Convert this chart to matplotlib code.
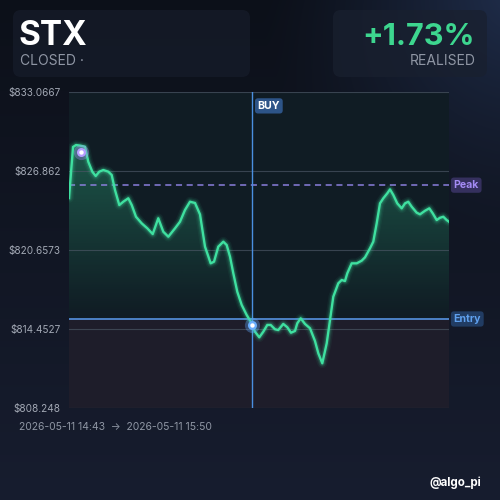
import numpy as np
import matplotlib
matplotlib.use("Agg")
import matplotlib.pyplot as plt
from matplotlib.patches import FancyBboxPatch
import matplotlib.transforms as mtransforms

# ---------------- data ----------------
symbol = "STX"
status = "CLOSED ·"
pnl_text = "+1.73%"
pnl_label = "REALISED"
start_label = "2026-05-11 14:43"
end_label = "2026-05-11 15:50"
handle = "@algo_pi"

minutes = [0.0, 0.71, 1.23, 1.94, 2.82, 3.40, 4.11, 4.71, 5.34, 6.05, 6.93, 7.53,
           8.11, 8.87, 9.57, 10.46, 11.06, 11.81, 12.82, 13.81, 14.76, 15.74, 16.63,
           17.51, 18.69, 19.57, 20.45, 21.33, 22.22, 23.10, 23.98, 24.98, 25.57,
           26.32, 27.21, 27.80, 28.39, 28.97, 29.67, 30.45, 31.33, 32.04, 32.79,
           33.55, 34.26, 34.96, 35.56, 36.32, 36.90, 37.78, 38.49, 39.14, 39.85,
           40.25, 40.85, 41.61, 42.49, 43.37, 43.96, 44.66, 45.44, 46.02, 46.60,
           47.48, 48.08, 48.66, 49.07, 49.84, 50.73, 51.61, 52.19, 53.07, 53.65,
           54.25, 54.83, 55.42, 56.12, 56.60, 57.18, 57.88, 58.66, 59.24, 59.82,
           60.42, 61.30, 61.89, 62.77, 63.53, 64.13, 64.83, 65.41, 66.00, 66.59, 67.0]
prices = [824.74, 828.75, 828.90, 828.86, 828.77, 827.59, 826.81, 826.47, 826.81,
          826.94, 826.81, 826.55, 825.37, 824.19, 824.45, 824.72, 824.19, 823.27,
          822.75, 822.36, 821.91, 823.15, 822.09, 821.70, 822.36, 822.88, 823.80,
          824.45, 824.35, 823.45, 820.92, 819.61, 819.74, 820.92, 821.31, 821.05,
          820.13, 818.83, 817.38, 816.34, 815.55, 815.03, 814.24, 813.80, 814.24,
          814.77, 814.77, 814.43, 814.37, 814.85, 814.59, 814.16, 814.30, 814.90,
          815.29, 814.85, 814.51, 813.51, 812.54, 811.76, 813.33, 815.16, 816.99,
          818.04, 818.30, 818.22, 818.83, 819.61, 819.61, 819.82, 820.08, 820.79,
          821.31, 822.75, 824.32, 824.72, 825.11, 825.42, 824.98, 824.32, 823.93,
          824.32, 824.45, 824.06, 823.59, 823.46, 823.74, 823.93, 823.54, 823.01,
          823.19, 823.27, 823.01, 822.88]

y_min, y_max = 808.248, 833.0667
entry_price = 815.24
peak_price = 825.75
buy_minute = 32.27
peak_marker_minute = 2.06
peak_marker_price = 828.35
total_minutes = 67.0

# ---------------- colours ----------------
LINE = "#3fe0a0"
GRID = "#4a5563"
TXT_GRAY = "#8f96a4"

W = H = 500
fig = plt.figure(figsize=(5, 5), dpi=100)

# background gradient
bg_ax = fig.add_axes([0, 0, 1, 1], zorder=-10)
yy, xx = np.mgrid[0:H, 0:W]
top = np.array([0x0c, 0x10, 0x19]) / 255
bot = np.array([0x17, 0x1d, 0x2f]) / 255
t = (yy / H)[..., None]
img = top * (1 - t) + bot * t
glow_col = np.array([0x20, 0x2e, 0x4c]) / 255
d = np.sqrt((xx - 520) ** 2 + (yy + 10) ** 2) / 260
g = np.clip(1 - d, 0, 1)[..., None] ** 1.3
img = img * (1 - g) + glow_col * g
bg_ax.imshow(img, extent=[0, 1, 0, 1], aspect="auto", origin="upper")
bg_ax.axis("off")

# cards
def card(x0, y0, x1, y1, color):
    p = FancyBboxPatch((x0 / W, 1 - y1 / H), (x1 - x0) / W, (y1 - y0) / H,
                       boxstyle="round,pad=0,rounding_size=0.016",
                       transform=fig.transFigure, facecolor=color,
                       edgecolor="none", alpha=0.75, zorder=-5)
    fig.patches.append(p)

card(13, 10, 250, 77, "#161c2a")
card(333, 10, 487, 77, "#19202f")

fig.text(19 / W, 1 - 45 / H, symbol, color="white", fontsize=24,
         fontweight="bold", family="Inter", va="baseline", ha="left")
fig.text(20 / W, 1 - 65 / H, status, color=TXT_GRAY, fontsize=10,
         family="Inter", va="baseline", ha="left")
fig.text(475 / W, 1 - 45 / H, pnl_text, color="#3dd68f", fontsize=22,
         fontweight="bold", family="Inter", va="baseline", ha="right")
fig.text(476 / W, 1 - 65 / H, pnl_label, color=TXT_GRAY, fontsize=10,
         family="Inter", va="baseline", ha="right")

# ---------------- main axes ----------------
ax = fig.add_axes([69 / W, 1 - 408 / H, 380 / W, 316 / H])
ax.set_xlim(0, total_minutes)
ax.set_ylim(y_min, y_max)
ax.set_facecolor("none")
for s in ax.spines.values():
    s.set_visible(False)

ax.axhspan(entry_price, y_max, color="#101c24", zorder=0)
ax.axhspan(y_min, entry_price, color="#1e1d2a", zorder=0)

x = np.array(minutes)
y = np.array(prices)

# gradient fill under line (fading to entry level)
poly = ax.fill_between(x, y, y_min, color="none", zorder=1)
grad = np.linspace(0, 1, 256)[:, None] ** 1.1
rgba = np.zeros((256, 1, 4))
rgba[..., 0] = 0x30 / 255
rgba[..., 1] = 0xb8 / 255
rgba[..., 2] = 0x86 / 255
rgba[..., 3] = grad * 0.52
im = ax.imshow(rgba, extent=[0, total_minutes, entry_price, y_max],
               origin="lower", aspect="auto", zorder=1)
path = poly.get_paths()[0]
im.set_clip_path(path, transform=ax.transData)

# grid
ticks = np.linspace(y_min, y_max, 5)
for tv in ticks:
    ax.axhline(tv, color=GRID, lw=0.8, alpha=0.7, zorder=2)

def fmt(v):
    s = f"{v:.4f}".rstrip("0").rstrip(".")
    return "$" + s

ax.set_yticks(ticks)
ax.set_yticklabels([fmt(v) for v in ticks])
ax.tick_params(axis="y", length=0, pad=6, labelsize=7.2, labelcolor="#a2a8b4")
ax.set_xticks([])
for lab in ax.get_yticklabels():
    lab.set_family("Inter")

# reference lines
ax.axhline(peak_price, color="#8a7fdc", lw=1.1, ls=(0, (4, 3)), zorder=3)
ax.axhline(entry_price, color="#5b9cf0", lw=1.1, zorder=3)
ax.axvline(buy_minute, color="#4a8fe0", lw=1.0, zorder=3)

# glowing line
for lw, a in [(7, 0.06), (5, 0.10), (3.4, 0.18)]:
    ax.plot(x, y, color=LINE, lw=lw, alpha=a, solid_capstyle="round",
            solid_joinstyle="round", zorder=4)
ax.plot(x, y, color=LINE, lw=1.7, solid_joinstyle="round", zorder=5)

# markers
ax.scatter([peak_marker_minute], [peak_marker_price], s=120, color="#a78bfa",
           alpha=0.35, zorder=6, linewidths=0)
ax.scatter([peak_marker_minute], [peak_marker_price], s=42, color="#b69cff",
           zorder=6, linewidths=0)
ax.scatter([peak_marker_minute], [peak_marker_price], s=10, color="white",
           zorder=7, linewidths=0)
entry_y = np.interp(buy_minute, x, y)
ax.scatter([buy_minute], [entry_y], s=120, color="#60a5fa", alpha=0.35,
           zorder=6, linewidths=0)
ax.scatter([buy_minute], [entry_y], s=42, color="#6aaefc", zorder=6, linewidths=0)
ax.scatter([buy_minute], [entry_y], s=10, color="white", zorder=7, linewidths=0)

# labels
ax.annotate("BUY", xy=(buy_minute, y_max), xytext=(4, -10),
            textcoords="offset points", ha="left", va="center",
            fontsize=7.6, fontweight="bold", color="white", family="Inter",
            bbox=dict(boxstyle="round,pad=0.25,rounding_size=0.3",
                      fc="#2d5488", ec="none"), zorder=8)
trans = mtransforms.blended_transform_factory(ax.transAxes, ax.transData)
ax.text(1.012, peak_price, "Peak", transform=trans, ha="left", va="center",
        fontsize=7.6, fontweight="bold", color="#a48bf4", family="Inter",
        bbox=dict(boxstyle="round,pad=0.25,rounding_size=0.3",
                  fc="#35305e", ec="none"), clip_on=False, zorder=8)
ax.text(1.012, entry_price, "Entry", transform=trans, ha="left", va="center",
        fontsize=7.6, fontweight="bold", color="#5fa0ee", family="Inter",
        bbox=dict(boxstyle="round,pad=0.25,rounding_size=0.3",
                  fc="#213c63", ec="none"), clip_on=False, zorder=8)

fig.text(19 / W, 1 - 427 / H, f"{start_label}  →  {end_label}", color=TXT_GRAY,
         fontsize=7.5, family="Inter", va="center", ha="left")
fig.text(481 / W, 1 - 483 / H, handle, color="white", fontsize=8.3,
         fontweight="bold", family="Inter", va="center", ha="right")

fig.savefig("out.png", dpi=100, facecolor="#111626")
